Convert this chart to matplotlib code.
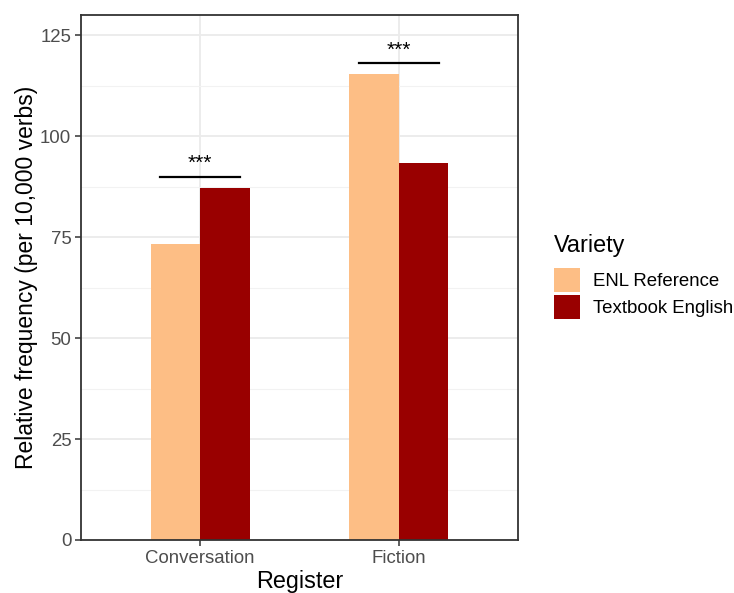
import numpy as np
import matplotlib.pyplot as plt
from matplotlib.patches import Patch
from matplotlib.ticker import MultipleLocator

plt.rcParams['font.family'] = ['Liberation Sans', 'DejaVu Sans']

# data
registers = ["Conversation", "Fiction"]
enl_reference = [73.3, 115.3]
textbook_english = [87.1, 93.3]
sig_heights = [90, 118]
sig_labels = ["***", "***"]

col_enl = "#FDBE85"
col_tb = "#990000"

fig = plt.figure(figsize=(7.34, 5.93), dpi=100)
ax = fig.add_axes([81 / 734, 53 / 593, 437 / 734, 525 / 593])

x = np.arange(1, len(registers) + 1)
w = 0.25
ax.bar(x - w / 2, enl_reference, width=w, color=col_enl, zorder=2)
ax.bar(x + w / 2, textbook_english, width=w, color=col_tb, zorder=2)

# significance brackets
for xi, h, lab in zip(x, sig_heights, sig_labels):
    ax.plot([xi - 0.2, xi + 0.2], [h, h], color="black", lw=1.6, zorder=3)
    ax.text(xi, h + 1.8, lab, ha="center", va="baseline", fontsize=15, zorder=3)

ax.set_xlim(0.4, 2.6)
ax.set_ylim(0, 130)
ax.set_xticks(x)
ax.set_xticklabels(registers)
ax.yaxis.set_major_locator(MultipleLocator(25))
ax.yaxis.set_minor_locator(MultipleLocator(12.5))

ax.grid(which="major", color="#EBEBEB", lw=1.3, zorder=0)
ax.grid(which="minor", axis="y", color="#F2F2F2", lw=0.8, zorder=0)
ax.set_axisbelow(True)

for s in ax.spines.values():
    s.set_color("#333333")
    s.set_linewidth(1.3)

ax.tick_params(axis="both", which="major", colors="#333333", length=4, width=1.1,
               labelsize=13.4, labelcolor="#4D4D4D", pad=3)
ax.tick_params(axis="y", which="minor", length=0)

ax.set_xlabel("Register", fontsize=16.8, labelpad=2.5)
ax.set_ylabel("Relative frequency (per 10,000 verbs)", fontsize=16.5, labelpad=1.5)

handles = [Patch(facecolor=col_enl, label="ENL Reference"),
           Patch(facecolor=col_tb, label="Textbook English")]
leg = fig.legend(handles=handles, title="Variety", loc="upper left",
                 bbox_to_anchor=(554 / 734, 1 - 234 / 593), frameon=False,
                 fontsize=13.4, title_fontsize=16.8, handlelength=1.4,
                 handleheight=1.6, handletextpad=0.7, labelspacing=0.18,
                 borderpad=0, borderaxespad=0)
leg._legend_box.align = "left"
leg._legend_box.sep = 8

fig.savefig("out.png", dpi=100)
